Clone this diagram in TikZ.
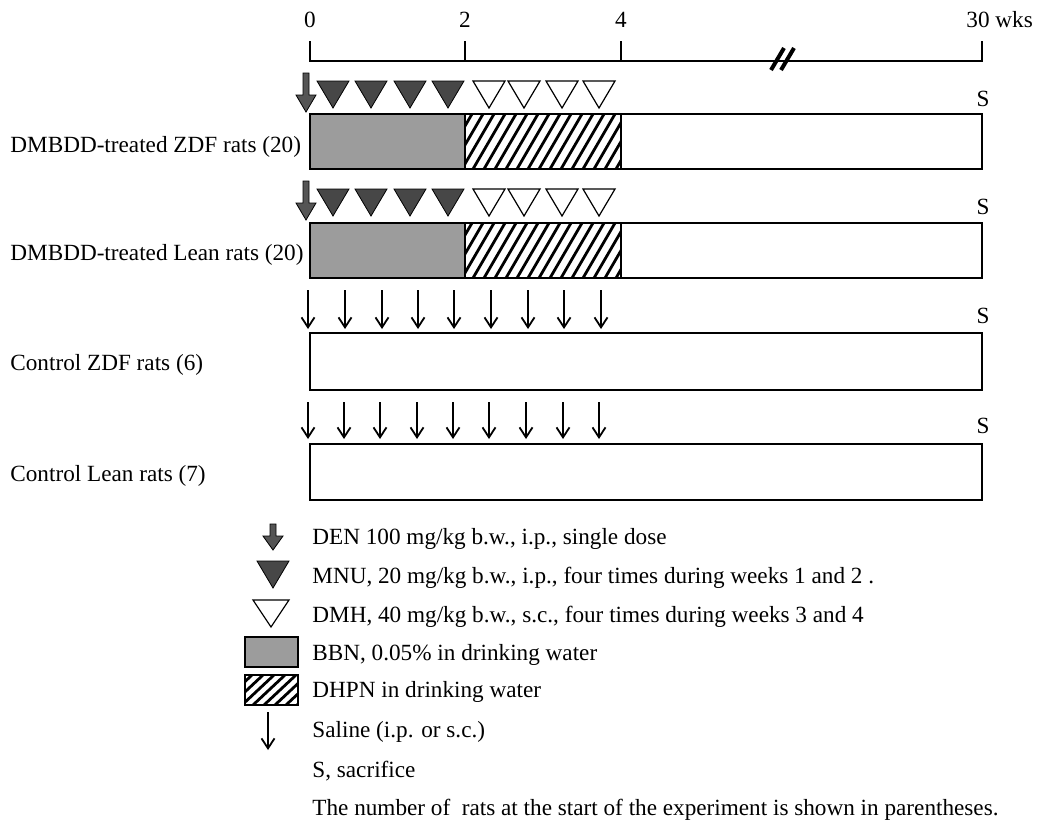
\documentclass[tikz,border=0pt]{standalone}
\usepackage{fontspec}
\setmainfont{Liberation Serif}
\usetikzlibrary{arrows.meta}
\definecolor{bbngray}{HTML}{9C9C9C}
\definecolor{mnugray}{HTML}{474747}
\definecolor{dengray}{HTML}{555555}
\tikzset{
  lbl/.style={anchor=west, inner sep=0pt, font=\fontsize{11.6}{14}\selectfont},
  ticklbl/.style={inner sep=0pt, font=\fontsize{11.6}{14}\selectfont},
  outline/.style={draw=black, line width=0.7pt},
  hatchline/.style={line width=1.4pt},
  saline/.style={-{Straight Barb[length=5pt,width=6.5pt,line width=0.9pt]}, line width=0.9pt},
  mnutri/.style={fill=mnugray, draw=black, line width=0.4pt},
  dmhtri/.style={fill=white, draw=black, line width=0.6pt},
  denarrow/.style={fill=dengray, draw=black, line width=0.4pt}
}
\newcommand\mnuT[2]{\path[mnutri] (#1-16,#2) -- (#1+16,#2) -- (#1,#2+27) -- cycle;}
\newcommand\dmhT[2]{\path[dmhtri] (#1-16,#2) -- (#1+16,#2) -- (#1,#2+27) -- cycle;}
\newcommand\denA[2]{\path[denarrow] (#1-3,#2) -- (#1+3,#2) -- (#1+3,#2+22) -- (#1+10,#2+22) -- (#1,#2+39) -- (#1-10,#2+22) -- (#1-3,#2+22) -- cycle;}
\newcommand\hatchbox[4]{%
  \begin{scope}
    \clip (#1,#2) rectangle (#3,#4);
    \foreach \i in {-80,-69,...,200} {\draw[hatchline] (#1+\i,#4) -- ++(32,#2-#4);}
  \end{scope}}
\begin{document}
\begin{tikzpicture}[x=0.5pt,y=-0.5pt]
\useasboundingbox (0,0) rectangle (1037,827);
% time axis
\draw[outline] (310,41) -- (310,61) -- (982,61) -- (982,41);
\draw[outline] (465,41) -- (465,61);
\draw[outline] (621,41) -- (621,61);
\draw[line width=2pt] (771,70) -- (784,48);
\draw[line width=2pt] (781,70) -- (794,48);
\node[ticklbl] (t0) at (310,20) {0};
\node[ticklbl] (t2) at (465,20) {2};
\node[ticklbl] (t4) at (621,20) {4};
\node[ticklbl, anchor=west] (t30) at (966,20) {30 wks};
% row labels
\node[lbl] (r1) at (10,147) {DMBDD-treated ZDF rats (20)};
\node[lbl] (r2) at (10,255) {DMBDD-treated Lean rats (20)};
\node[lbl] (r3) at (10,365) {Control ZDF rats (6)};
\node[lbl] (r4) at (10,476) {Control Lean rats (7)};
% S labels
\node[ticklbl] (s1) at (983,99) {S};
\node[ticklbl] (s2) at (983,207) {S};
\node[ticklbl] (s3) at (983,316) {S};
\node[ticklbl] (s4) at (983,426) {S};
% row 1
\denA{306}{73}
\foreach \x in {333,371,410,448} {\mnuT{\x}{81}}
\foreach \x in {489,524,562,599} {\dmhT{\x}{81}}
\fill[bbngray] (310,114) rectangle (465,169);
\hatchbox{465}{114}{621}{169}
\draw[outline] (310,114) rectangle (982,169);
\draw[outline] (465,114) -- (465,169);
\draw[outline] (621,114) -- (621,169);
% row 2
\denA{306}{181}
\foreach \x in {333,371,410,448} {\mnuT{\x}{189}}
\foreach \x in {489,524,562,599} {\dmhT{\x}{189}}
\fill[bbngray] (310,223) rectangle (465,278);
\hatchbox{465}{223}{621}{278}
\draw[outline] (310,223) rectangle (982,278);
\draw[outline] (465,223) -- (465,278);
\draw[outline] (621,223) -- (621,278);
% row 3
\foreach \x in {308,345,382,418,454,491,528,564,601} {\draw[saline] (\x,290) -- (\x,329);}
\draw[outline] (310,333) rectangle (982,390);
% row 4
\foreach \x in {308,344,380,417,453,489,526,563,599} {\draw[saline] (\x,402) -- (\x,439);}
\draw[outline] (310,444) rectangle (982,500);
% legend
\path[denarrow] (270,524) -- (276,524) -- (276,536) -- (283,536) -- (273,550) -- (263,536) -- (270,536) -- cycle;
\node[lbl] (l1) at (312,539) {DEN 100 mg/kg b.w., i.p., single dose};
\path[mnutri] (257,561) -- (289,561) -- (273,588) -- cycle;
\node[lbl] (l2) at (312,578) {MNU, 20 mg/kg b.w., i.p., four times during weeks 1 and 2 .};
\path[dmhtri] (253,600) -- (289,600) -- (271,627) -- cycle;
\node[lbl] (l3) at (312,617) {DMH, 40 mg/kg b.w., s.c., four times during weeks 3 and 4};
\fill[bbngray] (245,637) rectangle (298,667);
\draw[outline] (245,637) rectangle (298,667);
\node[lbl] (l4) at (312,655) {BBN, 0.05\% in drinking water};
\hatchbox{245}{675}{298}{705}
\draw[outline] (245,675) rectangle (298,705);
\node[lbl] (l5) at (312,692) {DHPN in drinking water};
\draw[saline] (268,712) -- (268,750);
\node[lbl] (l6) at (312,732) {Saline (i.p. or s.c.)};
\node[lbl] (l7) at (312,771) {S, sacrifice};
\node[lbl] (l8) at (312,810) {The number of \ rats at the start of the experiment is shown in parentheses.};
\end{tikzpicture}
\end{document}
